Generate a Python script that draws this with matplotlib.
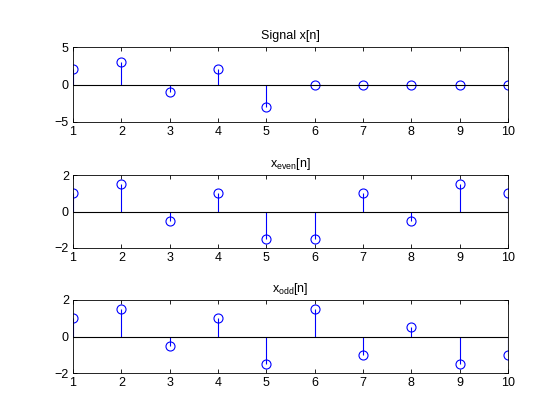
import numpy as np
import matplotlib
matplotlib.use('Agg')
import matplotlib.pyplot as plt

plt.rcParams['font.family'] = ['Liberation Sans', 'DejaVu Sans']
plt.rcParams['font.size'] = 9
plt.rcParams['mathtext.fontset'] = 'custom'
plt.rcParams['mathtext.rm'] = 'Liberation Sans'

n = np.arange(1, 11)
x = [2, 3, -1, 2, -3, 0, 0, 0, 0, 0]
x_even = [1, 1.5, -0.5, 1, -1.5, -1.5, 1, -0.5, 1.5, 1]
x_odd = [1, 1.5, -0.5, 1, -1.5, 1.5, -1, 0.5, -1.5, -1]

signals = [x, x_even, x_odd]
titles = ['Signal x[n]', r'$\mathregular{x_{even}[n]}$', r'$\mathregular{x_{odd}[n]}$']
ylims = [(-5, 5), (-2, 2), (-2, 2)]
yticks = [[-5, 0, 5], [-2, 0, 2], [-2, 0, 2]]

# axes boxes in pixels (left, top, right, bottom)
boxes = [(73, 47, 508, 122), (73, 175, 508, 248), (73, 300, 508, 373)]
W, H = 560, 420

fig = plt.figure(figsize=(5.6, 4.2), dpi=100)
for sig, ttl, yl, yt, (l, t, r, b) in zip(signals, titles, ylims, yticks, boxes):
    ax = fig.add_axes([l / W, 1 - b / H, (r - l) / W, (b - t) / H])
    ml, sl, bl = ax.stem(n, sig, linefmt='b-', markerfmt='bo', basefmt='k-')
    plt.setp(sl, linewidth=0.8)
    plt.setp(ml, markerfacecolor='none', markersize=6.5, markeredgewidth=0.8)
    plt.setp(bl, linewidth=0.8)
    ax.set_xlim(1, 10)
    ax.set_ylim(*yl)
    ax.set_xticks(n)
    ax.set_yticks(yt)
    ax.tick_params(direction='in', top=True, right=True, length=3, width=0.6, pad=3)
    for s in ax.spines.values():
        s.set_linewidth(0.6)
    ax.set_title(ttl, fontsize=9, pad=6)

fig.savefig('out.png', dpi=100)
